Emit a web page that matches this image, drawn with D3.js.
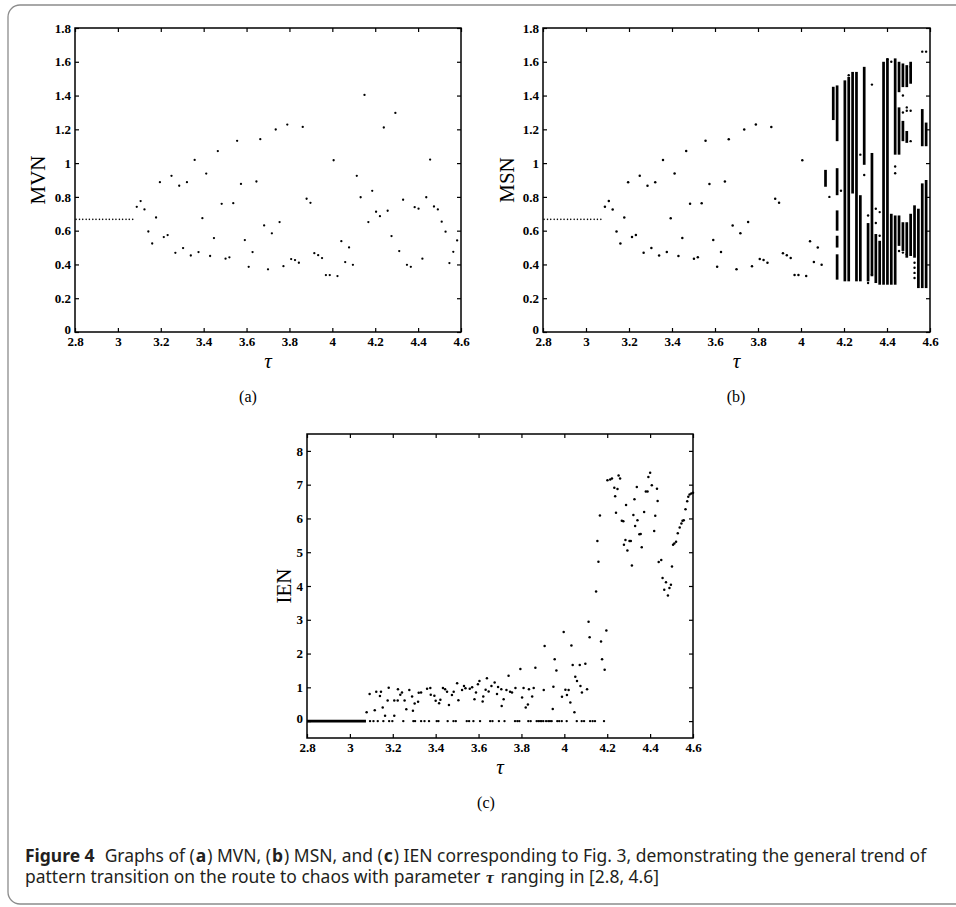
<!DOCTYPE html>
<html>
<head>
<meta charset="utf-8">
<script src="https://cdn.jsdelivr.net/npm/d3@7"></script>
<style>
  body { margin: 0; background: #fff; }
</style>
</head>
<body>
<div id="chart"></div>
<script>
// ---- data ----
const xTicks = [2.8, 3, 3.2, 3.4, 3.6, 3.8, 4, 4.2, 4.4, 4.6];
const mvnTicks = [0, 0.2, 0.4, 0.6, 0.8, 1, 1.2, 1.4, 1.6, 1.8];
const ienTicks = [0, 1, 2, 3, 4, 5, 6, 7, 8];

// period-1 plateau before the first bifurcation (panels a, b)
const tauFlat = [2.805, 2.821, 2.836, 2.852, 2.867, 2.883, 2.898, 2.914, 2.929,
  2.945, 2.960, 2.976, 2.991, 3.007, 3.022, 3.038, 3.053, 3.069];
const flatValue = 0.667;

// one MVN value per tau after the plateau
const tau = [3.088, 3.106, 3.124, 3.142, 3.160, 3.178, 3.196, 3.214, 3.232, 3.250,
  3.268, 3.286, 3.304, 3.322, 3.340, 3.358, 3.376, 3.394, 3.412, 3.430,
  3.448, 3.466, 3.484, 3.502, 3.520, 3.538, 3.556, 3.574, 3.592, 3.610,
  3.628, 3.646, 3.664, 3.682, 3.700, 3.718, 3.736, 3.754, 3.772, 3.790,
  3.808, 3.826, 3.844, 3.862, 3.880, 3.898, 3.916, 3.934, 3.952, 3.970,
  3.988, 4.006, 4.024, 4.042, 4.060, 4.078, 4.096, 4.114, 4.132, 4.150,
  4.168, 4.186, 4.204, 4.222, 4.240, 4.258, 4.276, 4.294, 4.312, 4.330,
  4.348, 4.366, 4.384, 4.402, 4.420, 4.438, 4.456, 4.474, 4.492, 4.510,
  4.528, 4.546, 4.564, 4.582];
const mvn = [0.741, 0.775, 0.726, 0.595, 0.524, 0.678, 0.887, 0.562, 0.574, 0.925,
  0.469, 0.866, 0.497, 0.887, 0.453, 1.019, 0.473, 0.674, 0.938, 0.450,
  0.556, 1.071, 0.759, 0.434, 0.442, 0.763, 1.132, 0.877, 0.544, 0.386,
  0.473, 0.891, 1.142, 0.631, 0.371, 0.584, 1.199, 0.651, 0.390, 1.228,
  0.432, 0.426, 0.410, 1.214, 0.789, 0.765, 0.467, 0.455, 0.438, 0.337,
  0.337, 1.017, 0.331, 0.538, 0.414, 0.501, 0.398, 0.925, 0.798, 1.404,
  0.651, 0.836, 0.712, 0.686, 1.211, 0.718, 0.568, 1.297, 0.479, 0.783,
  0.398, 0.386, 0.739, 0.730, 0.434, 0.798, 1.021, 0.743, 0.726, 0.653,
  0.594, 0.408, 0.475, 0.542];

// MSN equals MVN up to this tau, then the sets spread into bands
const msnSplitTau = 4.10;
const msnBands = [
  [4.114, 0.86, 0.96], [4.150, 1.255, 1.452],
  [4.168, 1.13, 1.46], [4.168, 0.81, 0.97], [4.168, 0.60, 0.72], [4.168, 0.50, 0.57], [4.168, 0.31, 0.46],
  [4.204, 0.30, 1.49], [4.222, 0.30, 1.51], [4.240, 0.82, 1.54], [4.258, 0.30, 1.54],
  [4.276, 0.30, 0.81], [4.294, 0.99, 1.57], [4.312, 0.30, 0.645], [4.330, 0.33, 1.06],
  [4.348, 0.29, 0.58], [4.366, 0.28, 0.54], [4.384, 0.28, 1.60], [4.402, 0.28, 1.62],
  [4.420, 0.28, 0.70], [4.438, 1.05, 1.62], [4.438, 0.28, 0.69],
  [4.456, 1.42, 1.60], [4.456, 1.05, 1.33], [4.456, 0.51, 0.69],
  [4.474, 1.45, 1.59], [4.474, 1.13, 1.25], [4.474, 0.48, 0.65],
  [4.492, 1.45, 1.58], [4.492, 1.12, 1.19], [4.492, 0.44, 0.65],
  [4.510, 1.47, 1.60], [4.510, 0.45, 0.70], [4.528, 0.44, 0.75], [4.546, 0.26, 0.73],
  [4.564, 1.10, 1.32], [4.564, 0.26, 0.88], [4.582, 1.10, 1.24], [4.582, 0.26, 0.90]
];
const msnDots = [
  [4.132, 0.80], [4.186, 0.836], [4.222, 1.52], [4.276, 1.05], [4.294, 0.93],
  [4.312, 0.69], [4.312, 0.29], [4.330, 1.465], [4.330, 0.34], [4.348, 0.73],
  [4.348, 0.645], [4.366, 0.71], [4.366, 0.57], [4.402, 1.615], [4.420, 1.60],
  [4.438, 0.98], [4.438, 0.94], [4.456, 0.48], [4.474, 1.40], [4.474, 1.30],
  [4.474, 0.47], [4.492, 1.33], [4.492, 1.31], [4.492, 0.46], [4.510, 1.31],
  [4.510, 1.13], [4.510, 1.57], [4.528, 0.41], [4.528, 0.38], [4.528, 0.35],
  [4.528, 0.32], [4.564, 1.66], [4.582, 1.66]
];

// IEN: zero plateau, scattered zeros and the non-zero points
const ienFlat = [2.8, 3.075];
const ienZeroTau = [3.094, 3.110, 3.130, 3.156, 3.183, 3.198, 3.249, 3.296, 3.304, 3.332,
  3.348, 3.369, 3.405, 3.413, 3.456, 3.483, 3.494, 3.545, 3.556, 3.576,
  3.607, 3.654, 3.665, 3.695, 3.721, 3.770, 3.781, 3.790, 3.832, 3.843,
  3.871, 3.879, 3.887, 3.894, 3.902, 3.915, 3.925, 3.933, 3.941, 3.967,
  3.976, 3.988, 4.011, 4.058, 4.081, 4.092, 4.120, 4.132, 4.143, 4.185];
const ienPoints = [
  [3.078, 0.26], [3.092, 0.80], [3.116, 0.32], [3.123, 0.87], [3.140, 0.74], [3.145, 0.87],
  [3.153, 0.40], [3.164, 0.16], [3.176, 0.61], [3.181, 0.99], [3.207, 0.61], [3.207, 0.16],
  [3.223, 0.61], [3.224, 0.94], [3.235, 0.78], [3.243, 0.85], [3.255, 0.61], [3.263, 0.35],
  [3.277, 0.92], [3.290, 0.73], [3.294, 0.31], [3.302, 0.52], [3.318, 0.57], [3.321, 0.84],
  [3.332, 0.85], [3.360, 0.96], [3.375, 0.98], [3.377, 0.78], [3.394, 0.75], [3.400, 0.60],
  [3.416, 0.53], [3.422, 0.63], [3.434, 0.98], [3.444, 0.94], [3.453, 0.87], [3.462, 0.48],
  [3.476, 0.77], [3.484, 0.87], [3.500, 1.12], [3.506, 0.62], [3.523, 0.92], [3.532, 1.04],
  [3.539, 0.97], [3.559, 0.96], [3.570, 1.00], [3.581, 0.65], [3.588, 0.85], [3.597, 1.09],
  [3.604, 1.19], [3.619, 0.58], [3.622, 0.73], [3.633, 0.93], [3.639, 1.27], [3.647, 0.88],
  [3.660, 1.04], [3.675, 1.14], [3.686, 0.80], [3.691, 1.01], [3.706, 0.94], [3.708, 0.45],
  [3.717, 0.65], [3.730, 0.92], [3.740, 1.34], [3.747, 0.87], [3.756, 0.85], [3.772, 0.98],
  [3.795, 1.54], [3.803, 0.70], [3.810, 0.98], [3.820, 0.40], [3.830, 0.49], [3.835, 0.94],
  [3.850, 0.73], [3.857, 0.98], [3.865, 1.58], [3.904, 0.92], [3.908, 2.22], [3.946, 0.36],
  [3.949, 1.02], [3.955, 1.83], [3.963, 1.50], [3.989, 0.72], [3.997, 2.64], [4.005, 0.93],
  [4.012, 0.77], [4.020, 0.92], [4.028, 0.55], [4.033, 2.24], [4.039, 1.66], [4.047, 0.26],
  [4.051, 1.31], [4.059, 1.19], [4.072, 1.66], [4.075, 1.04], [4.082, 0.85], [4.098, 1.70],
  [4.106, 0.94], [4.113, 2.94], [4.118, 2.48], [4.148, 3.84], [4.154, 5.33], [4.159, 4.72],
  [4.166, 6.09], [4.171, 2.36], [4.176, 1.83], [4.188, 1.52], [4.196, 2.68],
  [4.201, 7.13], [4.214, 7.15], [4.222, 7.18], [4.233, 6.91], [4.237, 6.66], [4.241, 6.17],
  [4.248, 6.87], [4.253, 7.27], [4.260, 7.18], [4.268, 5.93], [4.275, 5.92], [4.278, 5.22],
  [4.285, 5.36], [4.288, 6.40], [4.294, 5.05], [4.304, 5.33], [4.310, 5.33], [4.315, 4.61],
  [4.322, 6.10], [4.327, 6.57], [4.330, 5.78], [4.338, 6.93], [4.341, 5.95], [4.350, 5.53],
  [4.356, 5.54], [4.361, 5.15], [4.372, 6.19], [4.380, 6.80], [4.388, 6.80], [4.392, 7.23],
  [4.400, 7.35], [4.408, 6.98], [4.419, 5.63], [4.424, 6.08], [4.432, 6.88], [4.435, 6.52],
  [4.440, 4.71], [4.452, 4.77], [4.458, 4.24], [4.466, 3.89], [4.474, 4.11], [4.483, 3.72],
  [4.490, 3.94], [4.497, 4.04], [4.502, 4.58], [4.507, 5.22], [4.513, 5.26], [4.521, 5.31],
  [4.529, 5.56], [4.538, 5.73], [4.546, 5.85], [4.551, 5.93], [4.557, 5.95], [4.565, 6.27],
  [4.573, 6.51], [4.578, 6.64], [4.584, 6.71], [4.592, 6.74], [4.600, 6.76]
];

// caption pieces: [text, bold?, serif italic?]
const captionLine1 = [
  ["Figure 4", true], ["  Graphs of (", false], ["a", true], [") MVN, (", false],
  ["b", true], [") MSN, and (", false], ["c", true],
  [") IEN corresponding to Fig. 3, demonstrating the general trend of", false]
];
const captionLine2 = [
  ["pattern transition on the route to chaos with parameter ", false],
  ["τ", true, true], [" ranging in [2.8, 4.6]", false]
];

// ---- drawing ----
const serif = "'Liberation Serif', 'Times New Roman', serif";
const svg = d3.select("#chart").append("svg")
  .attr("width", 956)
  .attr("height", 907);

// figure frame
svg.append("rect")
  .attr("x", 8).attr("y", 5)
  .attr("width", 990).attr("height", 899)
  .attr("rx", 12)
  .attr("fill", "none")
  .attr("stroke", "#8c8c8c")
  .attr("stroke-width", 1.3);

const fmt = d => String(+d.toFixed(1));

function panel(box, yDomain, yTicks, yLabel, yLabelX, tag, tagX) {
  const x = d3.scaleLinear().domain([2.8, 4.6]).range([box.x, box.x + box.w]);
  const y = d3.scaleLinear().domain(yDomain).range([box.y + box.h, box.y]);
  const g = svg.append("g");

  g.append("g")
    .attr("transform", `translate(0,${box.y + box.h})`)
    .call(d3.axisBottom(x).tickValues(xTicks).tickSize(-4).tickSizeOuter(0).tickPadding(5).tickFormat(fmt));
  g.append("g")
    .attr("transform", `translate(0,${box.y})`)
    .call(d3.axisTop(x).tickValues(xTicks).tickSize(-4).tickSizeOuter(0).tickFormat(""));
  const left = g.append("g")
    .attr("transform", `translate(${box.x},0)`)
    .call(d3.axisLeft(y).tickValues(yTicks).tickSize(-4).tickSizeOuter(0).tickPadding(4).tickFormat(fmt));
  g.append("g")
    .attr("transform", `translate(${box.x + box.w},0)`)
    .call(d3.axisRight(y).tickValues(yTicks).tickSize(-4).tickSizeOuter(0).tickFormat(""));
  g.selectAll(".domain").remove();
  g.selectAll(".tick line").attr("stroke", "#000").attr("stroke-width", 1.2);
  g.selectAll(".tick text")
    .attr("font-family", serif)
    .attr("font-weight", "bold")
    .attr("font-size", 13)
    .attr("fill", "#000");
  // lowest y label sits a little higher, just above the first x label
  left.selectAll(".tick text").filter((d, i) => i === 0).attr("dy", "0.1em");

  // box
  g.append("rect")
    .attr("x", box.x).attr("y", box.y)
    .attr("width", box.w).attr("height", box.h)
    .attr("fill", "none")
    .attr("stroke", "#000")
    .attr("stroke-width", 1.5);

  // axis titles
  g.append("text")
    .attr("x", box.x + box.w / 2).attr("y", box.y + box.h + 36)
    .attr("text-anchor", "middle")
    .attr("font-family", serif).attr("font-style", "italic")
    .attr("font-size", 21)
    .text("τ");
  g.append("text")
    .attr("transform", `translate(${yLabelX},${box.y + box.h / 2}) rotate(-90)`)
    .attr("text-anchor", "middle")
    .attr("dy", "0.35em")
    .attr("font-family", serif)
    .attr("font-size", 21)
    .text(yLabel);
  g.append("text")
    .attr("x", tagX).attr("y", box.y + box.h + 70)
    .attr("text-anchor", "middle")
    .attr("font-family", serif)
    .attr("font-size", 16)
    .text(tag);

  return { g, x, y };
}

function dots(p, data, r) {
  p.g.append("g").selectAll("circle")
    .data(data)
    .join("circle")
    .attr("cx", d => p.x(d[0]))
    .attr("cy", d => p.y(d[1]))
    .attr("r", r)
    .attr("fill", "#000");
}

const flatPts = tauFlat.map(t => [t, flatValue]);
const mvnPts = tau.map((t, i) => [t, mvn[i]]);

// (a) MVN
const pa = panel({ x: 75, y: 28, w: 386, h: 304 }, [0, 1.8], mvnTicks, "MVN", 38, "(a)", 248);
dots(pa, flatPts, 0.8);
dots(pa, mvnPts, 1.15);

// (b) MSN
const pb = panel({ x: 543, y: 28, w: 387, h: 304 }, [0, 1.8], mvnTicks, "MSN", 507, "(b)", 736);
dots(pb, flatPts, 0.8);
dots(pb, mvnPts.filter(d => d[0] < msnSplitTau), 1.25);
pb.g.append("g").selectAll("rect")
  .data(msnBands)
  .join("rect")
  .attr("x", d => pb.x(d[0]) - 1.35)
  .attr("y", d => pb.y(d[2]))
  .attr("width", 2.7)
  .attr("height", d => pb.y(d[1]) - pb.y(d[2]))
  .attr("fill", "#000");
dots(pb, msnDots, 1.2);

// (c) IEN
const pc = panel({ x: 307, y: 434, w: 386, h: 304 }, [-0.5, 8.5], ienTicks, "IEN", 284, "(c)", 486);
pc.g.append("line")
  .attr("x1", pc.x(ienFlat[0])).attr("x2", pc.x(ienFlat[1]))
  .attr("y1", pc.y(0)).attr("y2", pc.y(0))
  .attr("stroke", "#000").attr("stroke-width", 2.6);
dots(pc, ienZeroTau.map(t => [t, 0]), 1.2);
dots(pc, ienPoints, 1.25);

// ---- caption: each piece is its own text, laid out side by side ----
const cap = svg.append("g").attr("fill", "#231f20");
const pieceGap = 1;

function captionLine(parts, y, size) {
  let x = 25;
  const g = cap.append("g");
  parts.forEach(([t, bold, greek]) => {
    const el = g.append("text")
      .attr("x", x).attr("y", y)
      .attr("font-size", size)
      .attr("font-family", greek ? serif : "'Noto Sans', 'Open Sans', sans-serif")
      .attr("font-weight", bold ? "bold" : "normal")
      .attr("font-style", greek ? "italic" : "normal")
      .style("white-space", "pre")
      .text(t);
    x += el.node().getBBox().width + pieceGap;
  });
  return { g, width: x - 25 };
}

// measure once, then size the caption so line 1 spans the reference width
const probe = captionLine(captionLine1, 862, 15);
probe.g.remove();
const capSize = 15 * (906 - 8 * pieceGap) / (probe.width - 8 * pieceGap);
captionLine(captionLine1, 862, capSize);
captionLine(captionLine2, 883, capSize);
</script>
</body>
</html>
